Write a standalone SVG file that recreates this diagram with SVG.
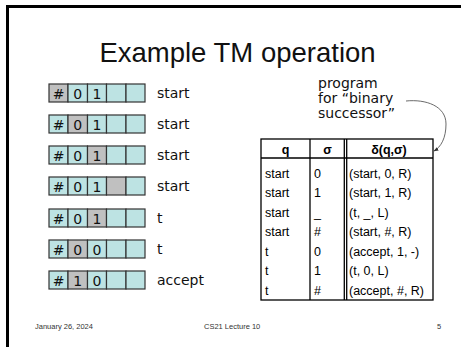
<svg xmlns="http://www.w3.org/2000/svg" width="461" height="347" viewBox="0 0 461 347">
<style>
.frame{fill:none;stroke:#000;stroke-width:3}
.title{font-family:"Liberation Sans",Arial,sans-serif;font-size:27.5px;fill:#111;text-anchor:middle}
.c{fill:#bde3e3;stroke:#333;stroke-width:1.2}
.g{fill:#c0c0c0;stroke:#333;stroke-width:1.2}
.ct{font-family:"DejaVu Sans",sans-serif;font-size:14px;fill:#111;text-anchor:middle}
.lbl{font-family:"DejaVu Sans",sans-serif;font-size:14px;fill:#111}
.prog{font-family:"DejaVu Sans",sans-serif;font-size:14px;fill:#111}
.th{font-family:"Liberation Sans",Arial,sans-serif;font-size:12.5px;font-weight:bold;fill:#000;text-anchor:middle}
.td{font-family:"Liberation Sans",Arial,sans-serif;font-size:12.5px;fill:#000}
.tl{stroke:#000;stroke-width:1.3;fill:none}
.foot{font-family:"Liberation Sans",Arial,sans-serif;font-size:7.5px;fill:#333}
</style>
<defs>
<marker id="ah" viewBox="0 0 10 10" refX="9" refY="5" markerWidth="6" markerHeight="6" orient="auto">
<path d="M0,1 L10,5 L0,9 z" fill="#333"/>
</marker>
</defs>
<path class="frame" d="M7.5,347 V6.5 H461"/>
<text class="title" x="237.5" y="62">Example TM operation</text>

<g id="tape1">
<rect class="g" x="49" y="84" width="19" height="18"/><rect class="c" x="68" y="84" width="19.5" height="18"/><rect class="c" x="87.5" y="84" width="19" height="18"/><rect class="c" x="106.5" y="84" width="19.5" height="18"/><rect class="c" x="126" y="84" width="19" height="18"/>
<text class="ct" x="58.5" y="98.5">#</text><text class="ct" x="77.8" y="98.5">0</text><text class="ct" x="97" y="98.5">1</text>
<text class="lbl" x="157" y="97.5">start</text>
</g>
<g id="tape2">
<rect class="c" x="49" y="115" width="19" height="18"/><rect class="g" x="68" y="115" width="19.5" height="18"/><rect class="c" x="87.5" y="115" width="19" height="18"/><rect class="c" x="106.5" y="115" width="19.5" height="18"/><rect class="c" x="126" y="115" width="19" height="18"/>
<text class="ct" x="58.5" y="129.5">#</text><text class="ct" x="77.8" y="129.5">0</text><text class="ct" x="97" y="129.5">1</text>
<text class="lbl" x="157" y="128.5">start</text>
</g>
<g id="tape3">
<rect class="c" x="49" y="146" width="19" height="18"/><rect class="c" x="68" y="146" width="19.5" height="18"/><rect class="g" x="87.5" y="146" width="19" height="18"/><rect class="c" x="106.5" y="146" width="19.5" height="18"/><rect class="c" x="126" y="146" width="19" height="18"/>
<text class="ct" x="58.5" y="160.5">#</text><text class="ct" x="77.8" y="160.5">0</text><text class="ct" x="97" y="160.5">1</text>
<text class="lbl" x="157" y="159.5">start</text>
</g>
<g id="tape4">
<rect class="c" x="49" y="177" width="19" height="18"/><rect class="c" x="68" y="177" width="19.5" height="18"/><rect class="c" x="87.5" y="177" width="19" height="18"/><rect class="g" x="106.5" y="177" width="19.5" height="18"/><rect class="c" x="126" y="177" width="19" height="18"/>
<text class="ct" x="58.5" y="191.5">#</text><text class="ct" x="77.8" y="191.5">0</text><text class="ct" x="97" y="191.5">1</text>
<text class="lbl" x="157" y="190.5">start</text>
</g>
<g id="tape5">
<rect class="c" x="49" y="209" width="19" height="18"/><rect class="c" x="68" y="209" width="19.5" height="18"/><rect class="g" x="87.5" y="209" width="19" height="18"/><rect class="c" x="106.5" y="209" width="19.5" height="18"/><rect class="c" x="126" y="209" width="19" height="18"/>
<text class="ct" x="58.5" y="223.5">#</text><text class="ct" x="77.8" y="223.5">0</text><text class="ct" x="97" y="223.5">1</text>
<text class="lbl" x="157" y="222.5">t</text>
</g>
<g id="tape6">
<rect class="c" x="49" y="240" width="19" height="18"/><rect class="g" x="68" y="240" width="19.5" height="18"/><rect class="c" x="87.5" y="240" width="19" height="18"/><rect class="c" x="106.5" y="240" width="19.5" height="18"/><rect class="c" x="126" y="240" width="19" height="18"/>
<text class="ct" x="58.5" y="254.5">#</text><text class="ct" x="77.8" y="254.5">0</text><text class="ct" x="97" y="254.5">0</text>
<text class="lbl" x="157" y="253.5">t</text>
</g>
<g id="tape7">
<rect class="c" x="49" y="271" width="19" height="18"/><rect class="g" x="68" y="271" width="19.5" height="18"/><rect class="c" x="87.5" y="271" width="19" height="18"/><rect class="c" x="106.5" y="271" width="19.5" height="18"/><rect class="c" x="126" y="271" width="19" height="18"/>
<text class="ct" x="58.5" y="285.5">#</text><text class="ct" x="77.8" y="285.5">1</text><text class="ct" x="97" y="285.5">0</text>
<text class="lbl" x="157" y="284.5">accept</text>
</g>

<g id="program-label">
<text class="prog" x="318" y="88">program</text>
<text class="prog" x="318" y="103">for “binary</text>
<text class="prog" x="318" y="118">successor”</text>
</g>

<g id="connectors">
<path d="M406,101 C426,99 446,106 446,124 C446,138 441,147 434,151" fill="none" stroke="#444" stroke-width="0.8" marker-end="url(#ah)"/>
</g>

<g id="table">
<rect class="tl" x="261" y="139" width="172" height="161"/>
<line class="tl" x1="261" y1="158" x2="433" y2="158"/>
<line class="tl" x1="310" y1="139" x2="310" y2="300"/>
<line class="tl" x1="344.3" y1="139" x2="344.3" y2="300"/>
<line class="tl" x1="346.7" y1="139" x2="346.7" y2="300"/>
<text class="th" x="285.5" y="153.5">q</text>
<text class="th" x="327.5" y="153.5">σ</text>
<text class="th" x="389" y="153.5">δ(q,σ)</text>
<text class="td" x="265" y="177.5">start</text><text class="td" x="314" y="177.5">0</text><text class="td" x="349" y="177.5">(start, 0, R)</text>
<text class="td" x="265" y="197">start</text><text class="td" x="314" y="197">1</text><text class="td" x="349" y="197">(start, 1, R)</text>
<text class="td" x="265" y="216.5">start</text><text class="td" x="314" y="216.5">_</text><text class="td" x="349" y="216.5">(t, _, L)</text>
<text class="td" x="265" y="236">start</text><text class="td" x="314" y="236">#</text><text class="td" x="349" y="236">(start, #, R)</text>
<text class="td" x="265" y="255.5">t</text><text class="td" x="314" y="255.5">0</text><text class="td" x="349" y="255.5">(accept, 1, -)</text>
<text class="td" x="265" y="275">t</text><text class="td" x="314" y="275">1</text><text class="td" x="349" y="275">(t, 0, L)</text>
<text class="td" x="265" y="294.5">t</text><text class="td" x="314" y="294.5">#</text><text class="td" x="349" y="294.5">(accept, #, R)</text>
</g>

<g id="footer">
<text class="foot" x="35" y="329">January 26, 2024</text>
<text class="foot" x="204" y="329">CS21 Lecture 10</text>
<text class="foot" x="437" y="329">5</text>
</g>
</svg>
